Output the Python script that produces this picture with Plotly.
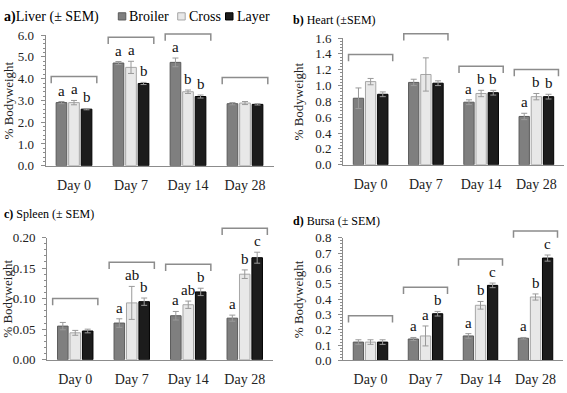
import plotly.graph_objects as go

# ---------------- data ----------------
days = ["Day 0", "Day 7", "Day 14", "Day 28"]
series = ["Broiler", "Cross", "Layer"]

liver_broiler = [2.90, 4.72, 4.75, 2.85]
liver_cross = [2.90, 4.52, 3.40, 2.88]
liver_layer = [2.60, 3.78, 3.18, 2.82]
liver_broiler_sem = [0.05, 0.07, 0.20, 0.05]
liver_cross_sem = [0.10, 0.28, 0.08, 0.07]
liver_layer_sem = [0.03, 0.05, 0.07, 0.03]
liver_letters = [["a", "a", "b"], ["a", "a", "b"], ["a", "b", "b"], ["", "", ""]]

heart_broiler = [0.84, 1.04, 0.79, 0.61]
heart_cross = [1.05, 1.14, 0.90, 0.86]
heart_layer = [0.89, 1.03, 0.91, 0.86]
heart_broiler_sem = [0.13, 0.04, 0.03, 0.04]
heart_cross_sem = [0.04, 0.21, 0.04, 0.04]
heart_layer_sem = [0.03, 0.03, 0.03, 0.03]
heart_letters = [["", "", ""], ["", "", ""], ["a", "b", "b"], ["a", "b", "b"]]

spleen_broiler = [0.055, 0.060, 0.072, 0.068]
spleen_cross = [0.044, 0.093, 0.090, 0.140]
spleen_layer = [0.047, 0.095, 0.111, 0.167]
spleen_broiler_sem = [0.006, 0.007, 0.007, 0.005]
spleen_cross_sem = [0.004, 0.027, 0.006, 0.007]
spleen_layer_sem = [0.003, 0.006, 0.006, 0.009]
spleen_letters = [["", "", ""], ["a", "ab", "b"], ["a", "ab", "b"], ["a", "b", "c"]]

bursa_broiler = [0.120, 0.140, 0.160, 0.145]
bursa_cross = [0.120, 0.160, 0.360, 0.414]
bursa_layer = [0.120, 0.305, 0.490, 0.668]
bursa_broiler_sem = [0.015, 0.010, 0.015, 0.005]
bursa_cross_sem = [0.015, 0.065, 0.025, 0.020]
bursa_layer_sem = [0.015, 0.015, 0.015, 0.020]
bursa_letters = [["", "", ""], ["a", "a", "b"], ["a", "b", "c"], ["a", "b", "c"]]

y_tick_liver = [0.0, 1.0, 2.0, 3.0, 4.0, 5.0, 6.0]
y_tick_heart = [0.0, 0.2, 0.4, 0.6, 0.8, 1.0, 1.2, 1.4, 1.6]
y_tick_spleen = [0.00, 0.05, 0.10, 0.15, 0.20]
y_tick_bursa = [0.0, 0.1, 0.2, 0.3, 0.4, 0.5, 0.6, 0.7, 0.8]

# ---------------- styling / layout ----------------
W, H = 567, 393
FONT = "Liberation Serif, Times New Roman, Times, serif"
fills = ["#7f7f7f", "#e8e8e8", "#1c1c1c"]
edges = ["#5a5a5a", "#a6a6a6", "#000000"]
errc = "#9a9a9a"
axc = "#8c8c8c"
BARGAP = 0.34
BARGROUPGAP = 0.15

panels = [
    dict(title="<b>a)</b>Liver (± SEM)", tsize=14, tx=2, ty=10,
         vals=[liver_broiler, liver_cross, liver_layer],
         sems=[liver_broiler_sem, liver_cross_sem, liver_layer_sem],
         letters=liver_letters, ticks=y_tick_liver, fmt=".1f", minor=0.2,
         xd=(45.5, 273.5), yd=(165.0, 29.3), ytx=8),
    dict(title="<b>b)</b> Heart (±SEM)", tsize=12, tx=291, ty=13,
         vals=[heart_broiler, heart_cross, heart_layer],
         sems=[heart_broiler_sem, heart_cross_sem, heart_layer_sem],
         letters=heart_letters, ticks=y_tick_heart, fmt=".1f", minor=0.04,
         xd=(343.0, 564.0), yd=(164.0, 32.3), ytx=298),
    dict(title="<b>c)</b> Spleen (± SEM)", tsize=12, tx=2, ty=215,
         vals=[spleen_broiler, spleen_cross, spleen_layer],
         sems=[spleen_broiler_sem, spleen_cross_sem, spleen_layer_sem],
         letters=spleen_letters, ticks=y_tick_spleen, fmt=".2f", minor=0.01,
         xd=(47.0, 273.0), yd=(366.7, 239.7), ytx=8),
    dict(title="<b>d)</b> Bursa (± SEM)", tsize=12, tx=291, ty=222,
         vals=[bursa_broiler, bursa_cross, bursa_layer],
         sems=[bursa_broiler_sem, bursa_cross_sem, bursa_layer_sem],
         letters=bursa_letters, ticks=y_tick_bursa, fmt=".1f", minor=0.02,
         xd=(343.0, 563.0), yd=(367.5, 240.0), ytx=298),
]

fig = go.Figure()
shapes = []
annotations = []
xpos = list(range(len(days)))
slot = (1 - BARGAP) / 3.0

for pi, p in enumerate(panels):
    k = "" if pi == 0 else str(pi + 1)
    xa, ya = "x" + k, "y" + k
    for si, name in enumerate(series):
        fig.add_trace(go.Bar(
            x=xpos, y=p["vals"][si], name=name, showlegend=False,
            offsetgroup=str(si), xaxis=xa, yaxis=ya,
            marker=dict(color=fills[si], line=dict(color=edges[si], width=1)),
            error_y=dict(type="data", array=p["sems"][si], visible=True,
                         color=errc, thickness=1, width=3),
        ))
    ymax = p["ticks"][-1]
    plot_h = p["yd"][0] - p["yd"][1]
    upp = ymax / plot_h  # data units per pixel

    fig.update_layout(**{
        "xaxis" + k: dict(domain=[p["xd"][0] / W, p["xd"][1] / W], anchor=ya,
                          range=[-0.5, 3.5], tickvals=xpos, ticktext=days,
                          showline=True, linecolor=axc, linewidth=1, ticks="",
                          showgrid=False, zeroline=False, ticklabelstandoff=6,
                          tickfont=dict(family=FONT, size=14, color="#222")),
        "yaxis" + k: dict(domain=[1 - p["yd"][0] / H, 1 - p["yd"][1] / H], anchor=xa,
                          range=[0, ymax], tickvals=p["ticks"], tickformat=p["fmt"],
                          showline=True, linecolor=axc, linewidth=1,
                          ticks="outside", ticklen=4, tickcolor=axc,
                          minor=dict(dtick=p["minor"], ticks="outside", ticklen=2,
                                     tickcolor=axc, showgrid=False),
                          showgrid=False, zeroline=False, ticklabelstandoff=4,
                          tickfont=dict(family=FONT, size=13, color="#222")),
    })

    # title
    annotations.append(dict(text=p["title"], xref="paper", yref="paper",
                            x=p["tx"] / W, y=1 - p["ty"] / H, xanchor="left",
                            yanchor="middle", showarrow=False,
                            font=dict(family=FONT, size=p["tsize"], color="#000")))
    # y title
    annotations.append(dict(text="% Bodyweight", xref="paper", yref="paper",
                            x=p["ytx"] / W, y=1 - (p["yd"][0] + p["yd"][1]) / 2 / H,
                            textangle=-90, showarrow=False, xanchor="center",
                            yanchor="middle",
                            font=dict(family=FONT, size=13, color="#222")))

    for di in range(len(days)):
        tops = [p["vals"][s][di] + p["sems"][s][di] for s in range(3)]
        # significance letters
        for s in range(3):
            lt = p["letters"][di][s]
            if lt:
                annotations.append(dict(text=lt, xref=xa, yref=ya,
                                        x=di + (s - 1) * slot, y=tops[s],
                                        yanchor="bottom", xanchor="center",
                                        yshift=1, showarrow=False,
                                        font=dict(family=FONT, size=15, color="#111")))
        # bracket (in y-domain units so it may rise above the axis top)
        top_px = max(tops) / upp
        y1 = (top_px + 25) / plot_h
        y0 = (top_px + 18) / plot_h
        x0, x1 = di - 0.4, di + 0.4
        shapes.append(dict(type="path", xref=xa, yref=ya + " domain",
                           path=f"M {x0},{y0} L {x0},{y1} L {x1},{y1} L {x1},{y0}",
                           line=dict(color=axc, width=1.5)))

# manual legend
leg = [(118.3, "Broiler"), (177.7, "Cross"), (225.5, "Layer")]
for si, (lx, name) in enumerate(leg):
    shapes.append(dict(type="rect", xref="paper", yref="paper",
                       x0=lx / W, x1=(lx + 7.5) / W, y0=1 - 13.5 / H, y1=1 - 6 / H,
                       fillcolor=fills[si], line=dict(color=edges[si], width=1)))
    annotations.append(dict(text=name, xref="paper", yref="paper",
                            x=(lx + 9) / W, y=1 - 10 / H, xanchor="left",
                            yanchor="middle", showarrow=False,
                            font=dict(family=FONT, size=14, color="#000")))

fig.update_layout(width=W, height=H, margin=dict(l=0, r=0, t=0, b=0),
                  paper_bgcolor="white", plot_bgcolor="white",
                  barmode="group", bargap=BARGAP, bargroupgap=BARGROUPGAP,
                  showlegend=False, shapes=shapes, annotations=annotations,
                  font=dict(family=FONT))

fig.write_html("out.html", config={"displayModeBar": False},
               post_script="document.body.style.margin='0';document.body.style.padding='0';")
